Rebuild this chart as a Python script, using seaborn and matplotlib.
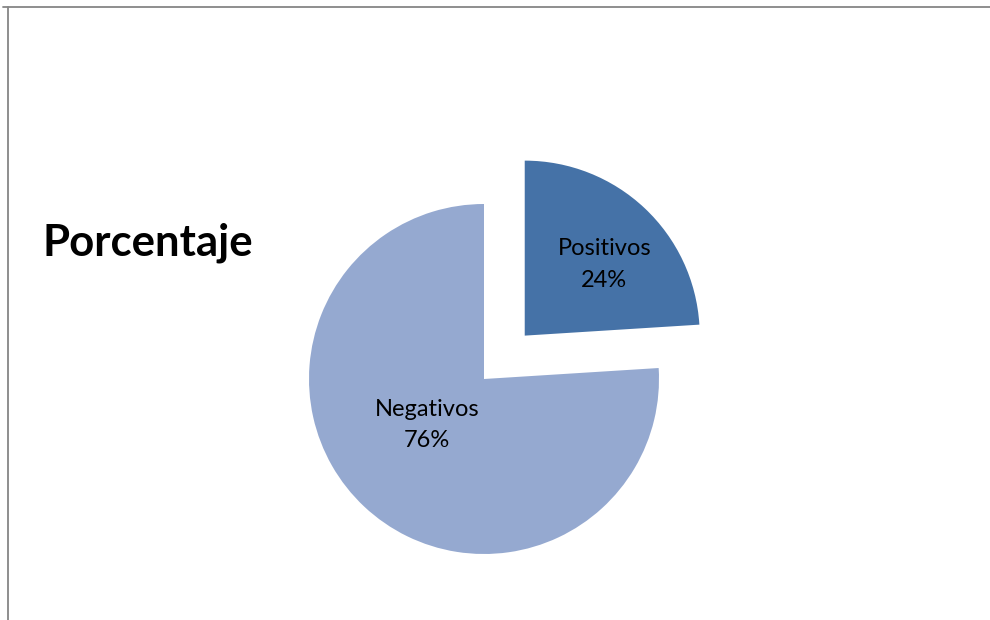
import matplotlib
matplotlib.use("Agg")
import matplotlib.pyplot as plt
import seaborn as sns
import numpy as np
from matplotlib.lines import Line2D

categories = ["Positivos", "Negativos"]
values = [24, 76]
colors = ["#4572A7", "#95A9D0"]
title = "Porcentaje"

sns.set_theme(style="white")
plt.rcParams["font.family"] = ["Lato", "DejaVu Sans"]

W, H = 990, 620
fig = plt.figure(figsize=(W / 100, H / 100), dpi=100)
ax = fig.add_axes([0, 0, 1, 1])

center = (484, H - 379)
radius = 175
explode = [0.34 * radius, 0.0]
wedges, _ = ax.pie(values, colors=colors, startangle=90, counterclock=False,
                   center=center, radius=radius, explode=explode,
                   wedgeprops=dict(linewidth=0), frame=True)
ax.set_xlim(0, W)
ax.set_ylim(0, H)
ax.set_aspect("equal")
ax.axis("off")

# labels positioned from wedge geometry
label_dist = [0.61, 0.42]
angle_adj = [-5, -8]
for w, cat, v, d, adj in zip(wedges, categories, values, label_dist, angle_adj):
    mid = np.deg2rad((w.theta1 + w.theta2) / 2 + adj)
    cx, cy = w.center
    x = cx + d * w.r * np.cos(mid)
    y = cy + d * w.r * np.sin(mid)
    ax.text(x, y, f"{cat}\n{v}%", ha="center", va="center", fontsize=17,
            color="black", linespacing=1.6)

fig.text(43 / W, 1 - 243 / H, title, ha="left", va="center", fontsize=31.5,
         fontweight="bold", color="black")

# chart area border (top and left)
fig.add_artist(Line2D([3 / W, 1], [1 - 7 / H, 1 - 7 / H], color="#868686", lw=1.3,
                      transform=fig.transFigure))
fig.add_artist(Line2D([8 / W, 8 / W], [0, 1 - 7 / H], color="#868686", lw=1.3,
                      transform=fig.transFigure))

fig.savefig("out.png", dpi=100)
